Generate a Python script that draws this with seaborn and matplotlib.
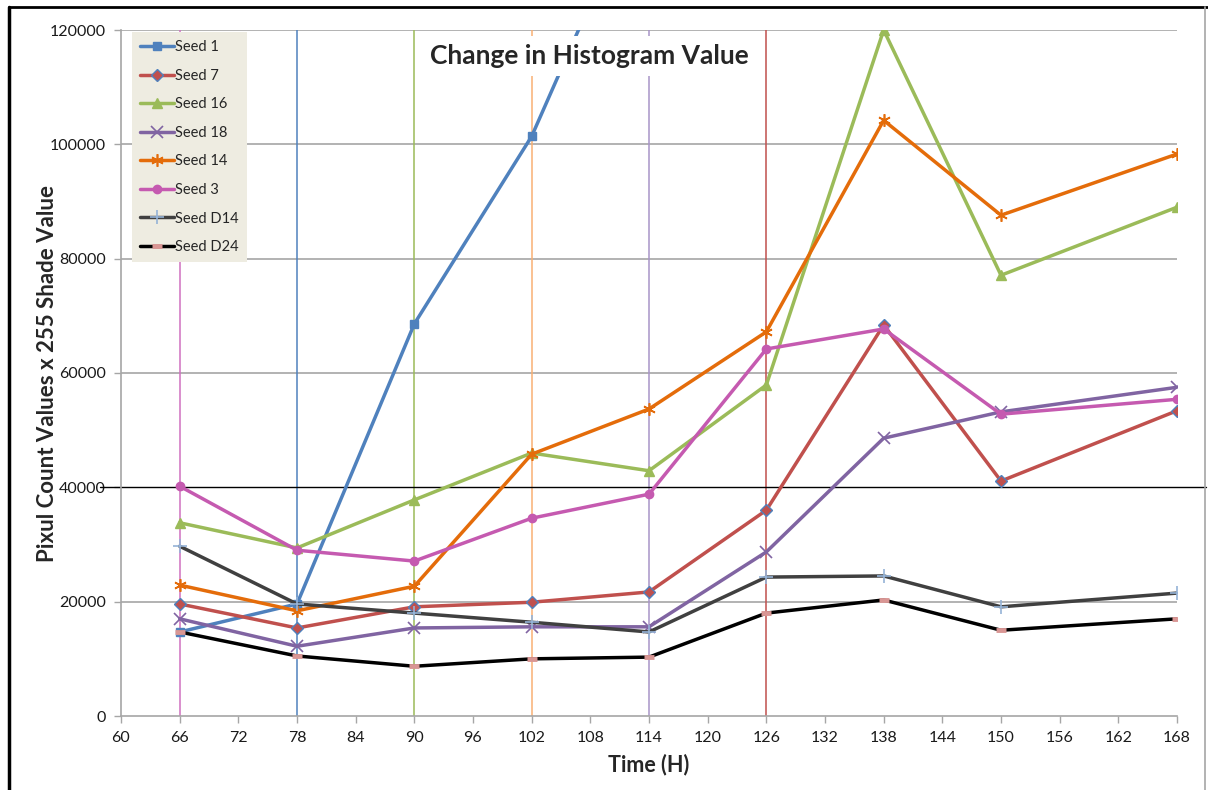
import numpy as np
import pandas as pd
import matplotlib
matplotlib.use("Agg")
import matplotlib.pyplot as plt
from matplotlib.lines import Line2D
import seaborn as sns

# ---------------- data ----------------
times = [66, 78, 90, 102, 114, 126, 138, 150, 168]
seed_1 = [14700, 19600, 68600, 101400, 148000, np.nan, np.nan, np.nan, np.nan]
seed_7 = [19600, 15400, 19100, 19900, 21700, 36000, 68400, 41100, 53400]
seed_16 = [33800, 29400, 37800, 46000, 42900, 57900, 120000, 77100, 89000]
seed_18 = [17000, 12200, 15400, 15600, 15600, 28700, 48600, 53200, 57500]
seed_14 = [22900, 18400, 22700, 45800, 53700, 67200, 104200, 87600, 98300]
seed_3 = [40200, 29000, 27100, 34600, 38800, 64200, 67700, 52800, 55400]
seed_d14 = [29700, 19600, 18000, 16400, 14700, 24300, 24500, 19100, 21500]
seed_d24 = [14700, 10500, 8700, 10000, 10300, 18000, 20300, 15000, 17000]

series_names = ["Seed 1", "Seed 7", "Seed 16", "Seed 18", "Seed 14", "Seed 3", "Seed D14", "Seed D24"]
series_values = [seed_1, seed_7, seed_16, seed_18, seed_14, seed_3, seed_d14, seed_d24]

marker_times = [66, 78, 90, 102, 114, 126]
x_ticks = list(range(60, 169, 6))
y_ticks = [0, 20000, 40000, 60000, 80000, 100000, 120000]
highlight_y = 40000

title_text = "Change in Histogram Value"
x_label = "Time (H)"
y_label = "Pixul Count Values x 255 Shade Value"

# ---------------- styles ----------------
line_colors = ["#4F81BD", "#C0504D", "#9BBB59", "#8064A2", "#E46C0A", "#C55AB0", "#404040", "#000000"]
markers = ["s", "D", "^", "x", (6, 2, 0), "o", "+", "_"]
marker_face = ["#4F81BD", "#C0504D", "#9BBB59", "#8064A2", "#E46C0A", "#C55AB0", "#95B3D7", "#D99694"]
marker_edge = ["#4F81BD", "#4F81BD", "#9BBB59", "#8064A2", "#E46C0A", "#C55AB0", "#95B3D7", "#D99694"]
marker_size = [6, 6, 7, 8, 9, 6, 10, 7]
marker_ew = [1, 1, 1, 1.2, 1.2, 1, 1.2, 3.5]
vline_colors = ["#D070C0", "#4F81BD", "#9BBB59", "#F9B074", "#A894C8", "#C0504D"]

sns.set_theme(style="white")
plt.rcParams["font.family"] = ["Lato", "DejaVu Sans"]

fig = plt.figure(figsize=(12.08, 7.9), dpi=100)
ax = fig.add_axes([121 / 1208, 1 - 716 / 790, 1056 / 1208, 686 / 790])

# gridlines
for yv in y_ticks:
    if yv == highlight_y or yv == 0:
        continue
    ax.axhline(yv, color="#A6A6A6", lw=1.2, zorder=1)
ax.add_line(Line2D([-0.02, 1.027], [highlight_y, highlight_y], color="#000000", lw=1.0,
                   transform=ax.get_yaxis_transform(), clip_on=False, zorder=1.5))

# vertical reference lines
for t, c in zip(marker_times, vline_colors):
    ax.axvline(t, color=c, lw=1.1, zorder=1.2)

# series
for i, (name, vals) in enumerate(zip(series_names, series_values)):
    df = pd.DataFrame({"time": times, "value": vals}).dropna()
    sns.lineplot(data=df, x="time", y="value", ax=ax, color=line_colors[i], lw=2.5,
                 marker=markers[i], markersize=marker_size[i],
                 markerfacecolor=marker_face[i], markeredgecolor=marker_edge[i],
                 markeredgewidth=marker_ew[i], label=name, zorder=3 + i * 0.1)

ax.set_xlim(60, 168)
ax.set_ylim(0, 120000)
ax.set_xticks(x_ticks)
ax.set_yticks(y_ticks)
ax.tick_params(axis="both", which="both", direction="out", length=5, width=1, color="#A6A6A6",
               labelsize=11.5, labelcolor="#1a1a1a", pad=6, left=True, bottom=True)
for s in ["top", "right"]:
    ax.spines[s].set_visible(False)
for s in ["left", "bottom"]:
    ax.spines[s].set_color("#A6A6A6")
    ax.spines[s].set_linewidth(1.2)

ax.set_xlabel(x_label, fontsize=15.5, fontweight="bold", labelpad=6)
ax.set_ylabel(y_label, fontsize=16, fontweight="bold", labelpad=-6)

ax.text(0.444, 0.962, title_text, transform=ax.transAxes, ha="center", va="center",
        fontsize=19, fontweight="bold", zorder=10,
        bbox=dict(boxstyle="square,pad=0.3", facecolor="white", edgecolor="none"))

leg = ax.legend(loc="upper left", bbox_to_anchor=(0.0105, 0.997), borderaxespad=0,
                fontsize=10.5, labelspacing=1.0, handlelength=2.3, handletextpad=0.1,
                borderpad=0.55, frameon=True, fancybox=False)
leg.get_frame().set_facecolor("#EEECE1")
leg.get_frame().set_edgecolor("none")
leg.get_frame().set_alpha(1)
leg.set_zorder(20)

# figure border
fig.add_artist(Line2D([9 / 1208, 9 / 1208], [0, 1 - 7 / 790], color="black", lw=2.5, transform=fig.transFigure))
fig.add_artist(Line2D([9 / 1208, 1], [1 - 7 / 790, 1 - 7 / 790], color="black", lw=2, transform=fig.transFigure))
fig.add_artist(Line2D([1205 / 1208, 1205 / 1208], [0, 1 - 7 / 790], color="#A6A6A6", lw=1.2, transform=fig.transFigure))

fig.savefig("out.png", dpi=100)
